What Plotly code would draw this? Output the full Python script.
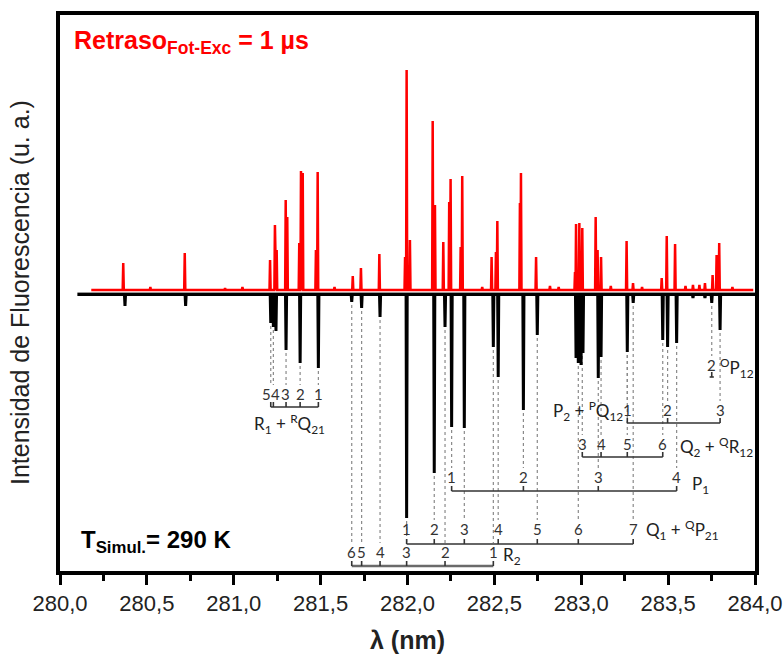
import plotly.graph_objects as go

# ---------------------------------------------------------------
# Measured LIF spectrum (red) : peak wavelength (nm) and intensity (a.u.)
# ---------------------------------------------------------------
exp_lambda = [280.364, 280.52, 280.718, 280.95, 281.05, 281.209, 281.237,
              281.247, 281.299, 281.308, 281.377, 281.387, 281.397, 281.473,
              281.483, 281.58, 281.685, 281.732, 281.838, 281.986, 281.995,
              282.014, 282.145, 282.158, 282.206, 282.240, 282.248, 282.306,
              282.315, 282.43, 282.484, 282.509, 282.517, 282.647, 282.653,
              282.740, 282.82, 282.87, 282.964, 282.970, 282.989, 283.006,
              283.083, 283.094, 283.114, 283.17, 283.261, 283.298, 283.35,
              283.463, 283.492, 283.540, 283.60, 283.643, 283.68, 283.712,
              283.756, 283.779, 283.794, 283.87]
exp_intensity = [30, 6, 40, 5, 6, 33, 68,
                 43, 93, 76, 50, 122, 120, 43,
                 121, 6, 17, 25, 39, 36, 223,
                 53, 172, 88, 51, 91, 114, 46,
                 117, 6, 36, 41, 72, 90, 120,
                 36, 7, 6, 21, 69, 70, 65,
                 76, 43, 36, 7, 52, 10, 6,
                 15, 57, 49, 7, 8, 8, 10,
                 18, 38, 50, 6]
exp_range = [280.18, 283.99]
exp_baseline = 3.0

# ---------------------------------------------------------------
# Simulated spectrum (black, drawn inverted) at 290 K
# ---------------------------------------------------------------
sim_lambda = [280.374, 280.723, 281.213, 281.228, 281.243, 281.301, 281.382,
              281.487, 281.679, 281.736, 281.842, 281.995, 282.154, 282.216,
              282.254, 282.327, 282.494, 282.522, 282.667, 282.747, 282.970,
              282.983, 282.999, 283.010, 283.098, 283.114, 283.265, 283.299,
              283.469, 283.497, 283.549, 283.643, 283.712, 283.751, 283.799]
sim_intensity = [13, 13, 30, 34, 38, 57, 70,
                 75, 9, 15, 24, 225, 180, 34,
                 134, 135, 54, 84, 117, 42, 65,
                 70, 72, 60, 85, 64, 59, 10,
                 47, 54, 50, 5, 5, 10, 37]
sim_range = [280.10, 284.0]
sim_baseline = -1.5

# ---------------------------------------------------------------
# Rotational branch assignments: J values and line positions (nm)
# ---------------------------------------------------------------
branches = {
    "R1": dict(J=[5, 4, 3, 2, 1],
               lam=[281.213, 281.228, 281.301, 281.382, 281.487]),
    "R2": dict(J=[6, 5, 4, 3, 2, 1],
               lam=[281.679, 281.736, 281.842, 281.995, 282.216, 282.494]),
    "Q1": dict(J=[1, 2, 3, 4, 5, 6, 7],
               lam=[281.995, 282.154, 282.327, 282.522, 282.747, 282.983, 283.299]),
    "P1": dict(J=[1, 2, 3, 4],
               lam=[282.254, 282.667, 283.098, 283.549]),
    "Q2": dict(J=[3, 4, 5, 6],
               lam=[283.006, 283.114, 283.265, 283.469]),
    "P2": dict(J=[1, 2, 3],
               lam=[283.265, 283.497, 283.799]),
    "OP12": dict(J=[2],
                 lam=[283.751]),
}
branch_names = {
    "R1": "R<sub>1</sub> + <sup>R</sup>Q<sub>21</sub>",
    "R2": "R<sub>2</sub>",
    "Q1": "Q<sub>1</sub> + <sup>Q</sup>P<sub>21</sub>",
    "P1": "P<sub>1</sub>",
    "Q2": "Q<sub>2</sub> + <sup>Q</sup>R<sub>12</sub>",
    "P2": "P<sub>2</sub> + <sup>P</sup>Q<sub>12</sub>",
    "OP12": "<sup>O</sup>P<sub>12</sub>",
}

# ---- drawing layout for the branch ladders (y in plot units) ----
ladder_style = {
    "R1":   dict(bar=-114, num=-101, name_at="below", ndx=-0.03, ndy=-17),
    "R2":   dict(bar=-273, num=-259, name_at="right", ndx=0.045, ndy=-4),
    "Q1":   dict(bar=-251, num=-236, name_at="right", ndx=0.065, ndy=-1),
    "P1":   dict(bar=-198, num=-184, name_at="right", ndx=0.075, ndy=-8),
    "Q2":   dict(bar=-164, num=-151, name_at="right", ndx=0.085, ndy=-3),
    "P2":   dict(bar=-130, num=-117, name_at="left", ndx=-0.015, ndy=-1),
    "OP12": dict(bar=-84, num=-72, name_at="right", ndx=0.025, ndy=-3),
}
num_nudge = {("R1", 5): -4, ("R1", 4): 2, ("R1", 3): -1}


def stick_path(lams, heights, span, base, sign, half_width=0.0032):
    """Polyline of narrow spikes rising from a flat baseline."""
    xs, ys = [span[0]], [base]
    for lam, h in sorted(zip(lams, heights)):
        xs += [lam - half_width, lam, lam + half_width]
        ys += [base, sign * h, base]
    xs.append(span[1])
    ys.append(base)
    return xs, ys


fig = go.Figure()

# zero reference line
fig.add_trace(go.Scatter(x=sim_range, y=[0.5, 0.5], mode="lines",
                         line=dict(color="#9a9a9a", width=1.2),
                         hoverinfo="skip", showlegend=False))

sx, sy = stick_path(sim_lambda, sim_intensity, sim_range, sim_baseline, -1)
fig.add_trace(go.Scatter(x=sx, y=sy, mode="lines",
                         line=dict(color="black", width=3),
                         showlegend=False))

ex, ey = stick_path(exp_lambda, exp_intensity, exp_range, exp_baseline, 1)
fig.add_trace(go.Scatter(x=ex, y=ey, mode="lines",
                         line=dict(color="#ff0000", width=2.5),
                         showlegend=False))


def sim_depth_at(lam):
    i = min(range(len(sim_lambda)), key=lambda k: abs(sim_lambda[k] - lam))
    return sim_intensity[i]


shapes = []
annotations = []
label_font = dict(family="Lato, Open Sans, sans-serif", size=15, color="#333333")
name_font = dict(family="Lato, Open Sans, sans-serif", size=17, color="#222222")

for key, br in branches.items():
    st = ladder_style[key]
    lo, hi = min(br["lam"]), max(br["lam"])
    if key == "OP12":
        lo, hi = lo - 0.012, hi + 0.012
    bar_color = "#6a6a6a" if key == "R2" else "#333333"
    bar_width = 2.5 if key == "R2" else 1.6
    shapes.append(dict(type="line", xref="x", yref="y", x0=lo, x1=hi,
                       y0=st["bar"], y1=st["bar"],
                       line=dict(color=bar_color, width=bar_width)))
    for J, lam in zip(br["J"], br["lam"]):
        # tick on the ladder
        shapes.append(dict(type="line", xref="x", yref="y", x0=lam, x1=lam,
                           y0=st["bar"], y1=st["bar"] + 5,
                           line=dict(color="#333333", width=1.6)))
        # dashed guide from the simulated line down to its J label
        top = -sim_depth_at(lam) - 3
        end = st["num"] + 9
        if top > end:
            shapes.append(dict(type="line", xref="x", yref="y", x0=lam, x1=lam,
                               y0=top, y1=end, layer="below",
                               line=dict(color="#8a8a8a", width=1.2,
                                         dash="3px,3px")))
        annotations.append(dict(x=lam, y=st["num"], xref="x", yref="y",
                                text=str(J), showarrow=False, font=label_font,
                                xshift=num_nudge.get((key, J), 0)))
    # branch name
    if st["name_at"] == "right":
        annotations.append(dict(x=hi + st["ndx"], y=st["num"] + st["ndy"],
                                xref="x", yref="y", text=branch_names[key],
                                showarrow=False, font=name_font,
                                xanchor="left"))
    elif st["name_at"] == "left":
        annotations.append(dict(x=lo + st["ndx"], y=st["num"] + st["ndy"],
                                xref="x", yref="y", text=branch_names[key],
                                showarrow=False, font=name_font,
                                xanchor="right"))
    else:
        annotations.append(dict(x=(lo + hi) / 2 + st["ndx"],
                                y=st["bar"] + st["ndy"],
                                xref="x", yref="y", text=branch_names[key],
                                showarrow=False, font=name_font,
                                xanchor="center"))

# panel texts
annotations.append(dict(xref="paper", yref="paper", x=0, y=1, xshift=12,
                        yshift=-27, xanchor="left", yanchor="middle",
                        showarrow=False,
                        text="<b>Retraso<sub>Fot-Exc</sub> = 1 µs</b>",
                        font=dict(family="Liberation Sans, Arial", size=25,
                                  color="#ff0000")))
annotations.append(dict(xref="paper", yref="paper", x=0, y=0, xshift=19,
                        yshift=30, xanchor="left", yanchor="middle",
                        showarrow=False,
                        text="<b>T<sub>Simul.</sub>= 290 K</b>",
                        font=dict(family="Liberation Sans, Arial", size=24,
                                  color="black")))
annotations.append(dict(xref="paper", yref="paper", x=0, y=0.5, xshift=-40,
                        xanchor="center", yanchor="middle", textangle=-90,
                        showarrow=False,
                        text="Intensidad de Fluorescencia (u. a.)",
                        font=dict(family="Liberation Sans, Arial", size=25,
                                  color="#222222")))
annotations.append(dict(xref="paper", yref="paper", x=0.5, y=0, yshift=-69,
                        xanchor="center", yanchor="middle", showarrow=False,
                        text="<b>λ (nm)</b>",
                        font=dict(family="Liberation Sans, Arial", size=25,
                                  color="#222222")))

fig.update_layout(
    width=784, height=654,
    margin=dict(l=60, r=29, t=15, b=83),
    paper_bgcolor="white", plot_bgcolor="white",
    separators=",.",
    shapes=shapes, annotations=annotations,
    xaxis=dict(range=[280, 284], tick0=280, dtick=0.5, tickformat=".1f",
               ticks="outside", ticklen=10, tickwidth=3, tickcolor="black",
               minor=dict(dtick=0.25, ticks="outside", ticklen=6,
                          tickwidth=3, tickcolor="black"),
               showline=True, mirror=True, linewidth=4, linecolor="black",
               showgrid=False, zeroline=False, automargin=False,
               tickfont=dict(family="Liberation Sans, Arial",
                             size=22, color="#222222")),
    yaxis=dict(range=[-278, 278], showticklabels=False, ticks="",
               showline=True, mirror=True, linewidth=4, linecolor="black",
               showgrid=False, zeroline=False, automargin=False),
)

fig.write_html("out.html")
